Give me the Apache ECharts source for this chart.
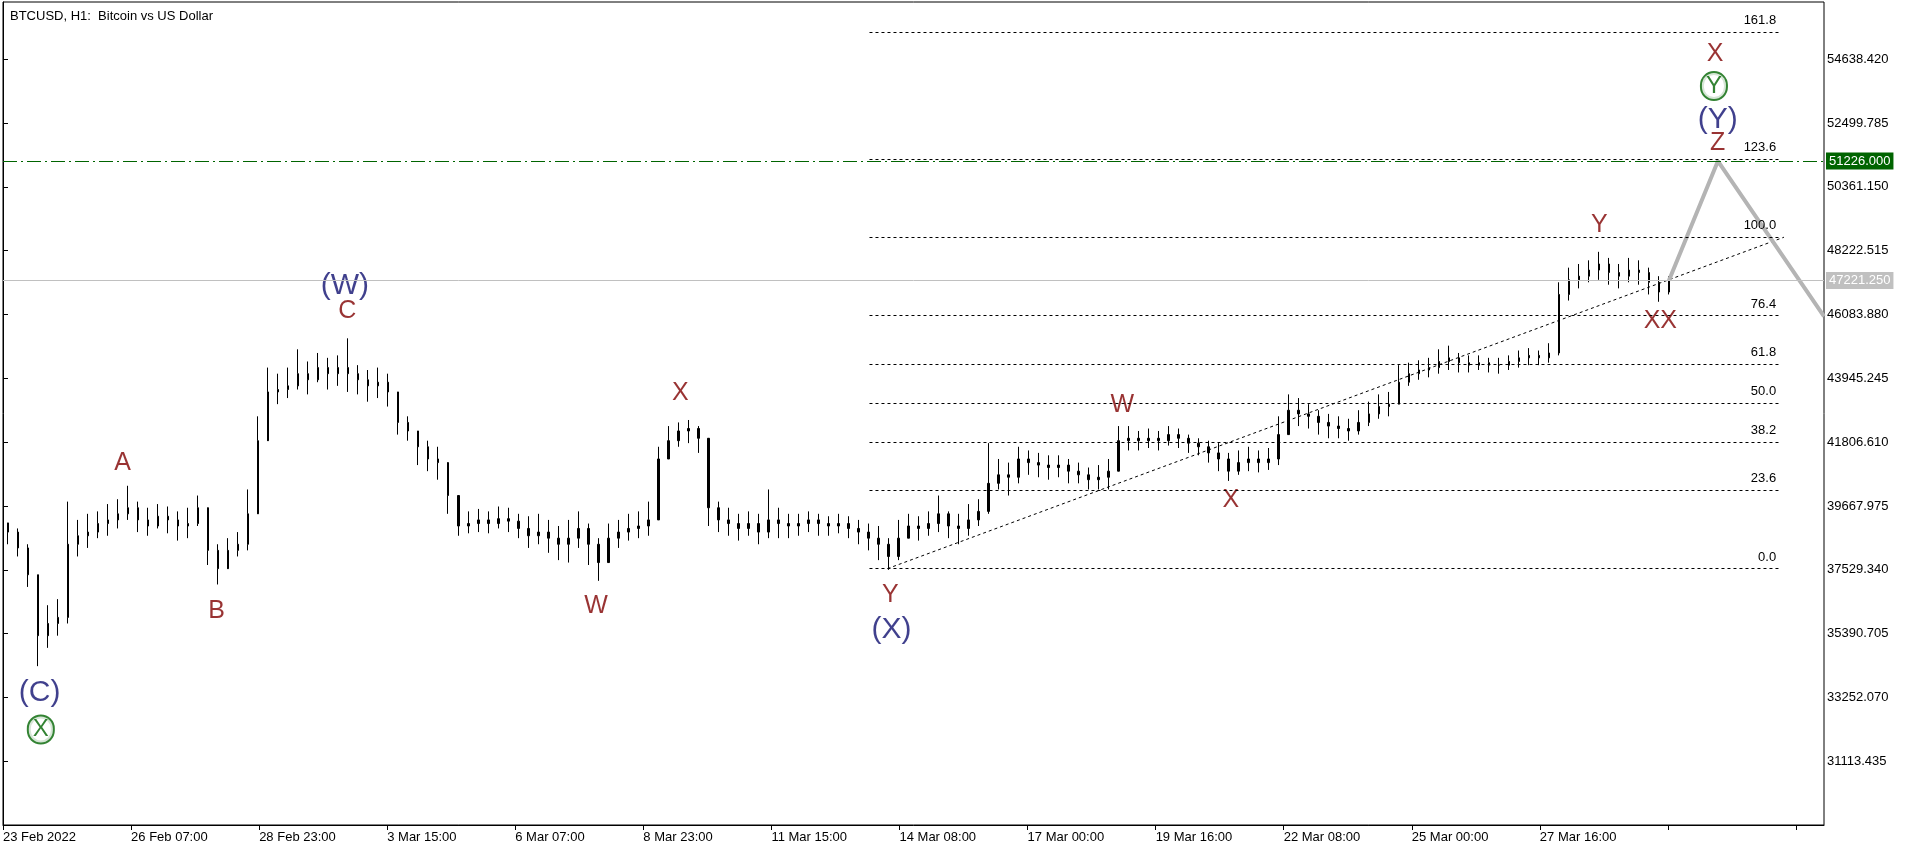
<!DOCTYPE html>
<html><head><meta charset="utf-8">
<script src="https://cdn.jsdelivr.net/npm/echarts@6/dist/echarts.min.js"></script>
<style>html,body{margin:0;padding:0;background:#fff}#c{width:1916px;height:852px}</style>
</head><body><div id="c"></div>
<script>
// 5-hour bars
const closes=[38792,38261,37362,35320,35729,35933,38384,38669,38792,39078,39200,39404,39608,39200,38996,39323,39200,38996,39078,39608,
38179,37566,38179,38384,39404,41855,43489,43570,43693,44101,43897,44305,44101,44305,44101,43897,43693,43815,43489,42467,
42181,41651,41242,41120,40017,38996,39078,39200,39078,39241,39159,38914,38669,38792,38588,38384,38588,38914,38384,37771,
38588,38792,38914,38996,39200,41242,41855,42181,42263,41936,39608,39200,39078,38914,39078,38792,39200,39078,38996,39078,
39200,39078,38996,39078,38914,38792,38588,38384,37975,38588,38996,38914,39078,39404,38996,38914,39200,39486,40426,40711,
40630,41242,41120,41038,40956,41038,40834,40711,40548,40630,40834,41855,41936,41855,41936,41855,42059,41936,41773,41651,
41446,41242,40834,41120,41242,41120,41242,42059,42876,42753,42672,42467,42345,42263,42181,42467,42753,42999,43080,43815,
44101,44224,44305,44510,44632,44469,44387,44469,44387,44387,44510,44632,44714,44632,44795,46756,47246,47369,47573,47777,
47491,47369,47573,47491,47164,46838,47221];
const highs=[39078,38914,38384,37362,36341,36545,39813,39200,39404,39486,39731,39894,40344,39813,39608,39731,39649,39486,39608,40017,
39404,38384,38588,38792,40221,42672,44305,44101,44305,44918,44510,44795,44632,44714,45286,44387,44224,44305,44101,43284,
42672,42059,41855,41651,41038,39813,39486,39568,39486,39649,39608,39404,39323,39404,39200,38996,39200,39486,39078,38588,
39078,39200,39404,39486,39813,41651,42345,42467,42549,42345,41651,39813,39608,39404,39486,39404,40221,39608,39404,39404,
39486,39404,39323,39404,39323,39200,39078,38996,38588,39200,39404,39323,39486,40017,39486,39404,39731,39894,41773,41242,
41120,41651,41528,41446,41365,41365,41242,41120,40956,41038,41242,42345,42345,42181,42263,42181,42345,42263,42059,41936,
41855,41773,41446,41528,41651,41528,41610,42672,43407,43284,43080,42876,42753,42672,42590,42876,43162,43407,43489,44387,
44469,44550,44632,44918,45040,44795,44714,44714,44632,44632,44714,44877,44958,44877,45122,47164,47654,47777,47900,48185,
47981,47777,47981,47900,47654,47369,47369];
const lows=[38384,37975,36954,34299,34912,35320,35729,37975,38261,38588,38669,38914,39200,38792,38669,38914,38751,38506,38588,38996,
37689,37036,37771,37975,38179,40426,42467,43080,43284,43570,43407,43815,43570,43693,43489,43407,43162,43284,42999,42059,
41855,41038,40834,40548,39404,38669,38751,38792,38751,38914,38792,38588,38261,38384,38097,37852,37771,38261,37689,37158,
37975,38261,38506,38588,38669,39404,41365,41651,41773,41446,38996,38792,38669,38506,38669,38384,38588,38588,38588,38669,
38792,38669,38669,38751,38588,38384,38179,37852,37526,37852,38588,38506,38669,38792,38588,38384,38669,38996,39404,40221,
40017,40426,40711,40630,40548,40630,40426,40426,40221,40221,40221,41242,41528,41528,41610,41528,41691,41610,41446,41365,
41120,40834,40507,40711,40834,40793,40875,41038,42263,42345,42263,42059,41936,41936,41855,42059,42345,42590,42672,43284,
43693,43897,43979,44101,44224,44142,44142,44224,44142,44101,44224,44305,44387,44387,44469,44714,46552,46960,47164,47246,
47083,46960,47164,47083,46756,46511,46756];
const timeLabels=['23 Feb 2022','26 Feb 07:00','28 Feb 23:00','3 Mar 15:00','6 Mar 07:00','8 Mar 23:00','11 Mar 15:00','14 Mar 08:00','17 Mar 00:00','19 Mar 16:00','22 Mar 08:00','25 Mar 00:00','27 Mar 16:00'];
const priceTicks=[31113.435,33252.070,35390.705,37529.340,39667.975,41806.610,43945.245,46083.880,48222.515,50361.150,52499.785,54638.420];
const fibRatios=[0,23.6,38.2,50,61.8,76.4,100,123.6,161.8];
const fibLow=37567, fibHigh=48675;
const trendLine=[[442,37567],[890,48675]];
const projection=[[832.5,47221],[857,51226],[910,46020]];
const lastPrice=47221.25, targetPrice=51226.0;
const waveLabels=[
 ['(C)',18.3,33400,'blue'],['X',18.9,32175,'circle'],['A',59.8,41120,'red'],['B',106.7,36137,'red'],
 ['(W)',170.8,47042,'blue'],['C',172,46184,'red'],['W',296.4,36300,'red'],['X',338.5,43448,'red'],
 ['Y',443.4,36668,'red'],['(X)',444,35524,'blue'],['W',559.3,43040,'red'],['X',613.6,39854,'red'],
 ['Y',797.7,49084,'red'],['XX',828.2,45857,'red'],['Z',856.9,51820,'red'],['(Y)',856.9,52596,'blue'],
 ['Y',855,53740,'circle'],['X',855.6,54802,'red']];

const N=182, HOURS=910;
const cats=[]; for(let i=0;i<N;i++) cats.push(i);
const candles=closes.map((c,i)=>[i===0?39100:closes[i-1],c,lows[i],highs[i]]);
const yMin=28974.8, yMax=56558;
const F='Liberation Sans, Arial, sans-serif';
const styles={
 red:{color:'#800000',fontSize:25,fontFamily:F},
 blue:{color:'#101070',fontSize:30,fontFamily:F},
 circle:{color:'#006400',fontSize:24,fontFamily:F,borderColor:'#006400',borderWidth:2,borderRadius:20,padding:[2,4,0,4],backgroundColor:'#fff'}
};
const chart=echarts.init(document.getElementById('c'));
chart.setOption({
 animation:false,
 title:{text:'BTCUSD, H1:  Bitcoin vs US Dollar',left:5,top:5,textStyle:{fontSize:13,fontWeight:'normal',color:'#000',fontFamily:F}},
 grid:{left:1,top:2,right:92,bottom:27,show:true,borderColor:'#000',borderWidth:1},
 xAxis:[
  {type:'category',data:cats,show:false,boundaryGap:true},
  {type:'value',min:0,max:HOURS,interval:64,position:'bottom',
   axisLine:{show:true,lineStyle:{color:'#000'}},splitLine:{show:false},
   axisTick:{show:true,length:5,lineStyle:{color:'#000'}},
   axisLabel:{align:'left',margin:6,color:'#000',fontSize:13,fontFamily:F,showMaxLabel:false,
     formatter:v=>timeLabels[Math.round(v/64)]||''}}
 ],
 yAxis:{type:'value',position:'right',min:yMin,max:yMax,scale:true,
   axisLine:{show:true,lineStyle:{color:'#000'}},splitLine:{show:false},
   axisTick:{show:true,length:5,customValues:priceTicks,lineStyle:{color:'#000'}},
   axisLabel:{customValues:priceTicks,color:'#000',fontSize:13,fontFamily:F,margin:3,formatter:v=>v.toFixed(3)}},
 series:[
  {type:'candlestick',xAxisIndex:0,data:candles,barWidth:2,
   itemStyle:{color:'#000',color0:'#000',borderColor:'#000',borderColor0:'#000',borderWidth:1},
   markLine:{symbol:'none',silent:true,
    data:[
     {yAxis:lastPrice,lineStyle:{color:'#c0c0c0',type:'solid',width:1},
      label:{position:'end',formatter:'47221.250',color:'#fff',backgroundColor:'#c0c0c0',padding:[2,3],fontSize:13,fontFamily:F,distance:2}},
     {yAxis:targetPrice,lineStyle:{color:'#006400',type:[14,4,2,4],width:1},
      label:{position:'end',formatter:'51226.000',color:'#fff',backgroundColor:'#006400',padding:[2,3],fontSize:13,fontFamily:F,distance:2}}
    ]}},
  {type:'line',xAxisIndex:1,data:[],
   markLine:{symbol:'none',silent:true,
    lineStyle:{color:'#000',type:[3,3],width:1},
    label:{position:'insideEndTop',color:'#000',fontSize:13,fontFamily:F},
    data:fibRatios.map(r=>{const p=fibLow+(fibHigh-fibLow)*r/100;return [
      {coord:[433,p],label:{formatter:r.toFixed(1)}},{coord:[888.6,p]}];})}},
  {type:'line',xAxisIndex:1,data:trendLine,symbol:'none',lineStyle:{color:'#000',type:[3,3],width:1}},
  {type:'line',xAxisIndex:1,data:projection,symbol:'none',clip:true,lineStyle:{color:'#b4b4b4',width:4}},
  {type:'scatter',xAxisIndex:1,symbolSize:0,
   data:waveLabels.map(w=>({value:[w[1],w[2]],label:Object.assign({show:true,position:'inside',formatter:w[0]},styles[w[3]])}))}
 ]
});
</script></body></html>
